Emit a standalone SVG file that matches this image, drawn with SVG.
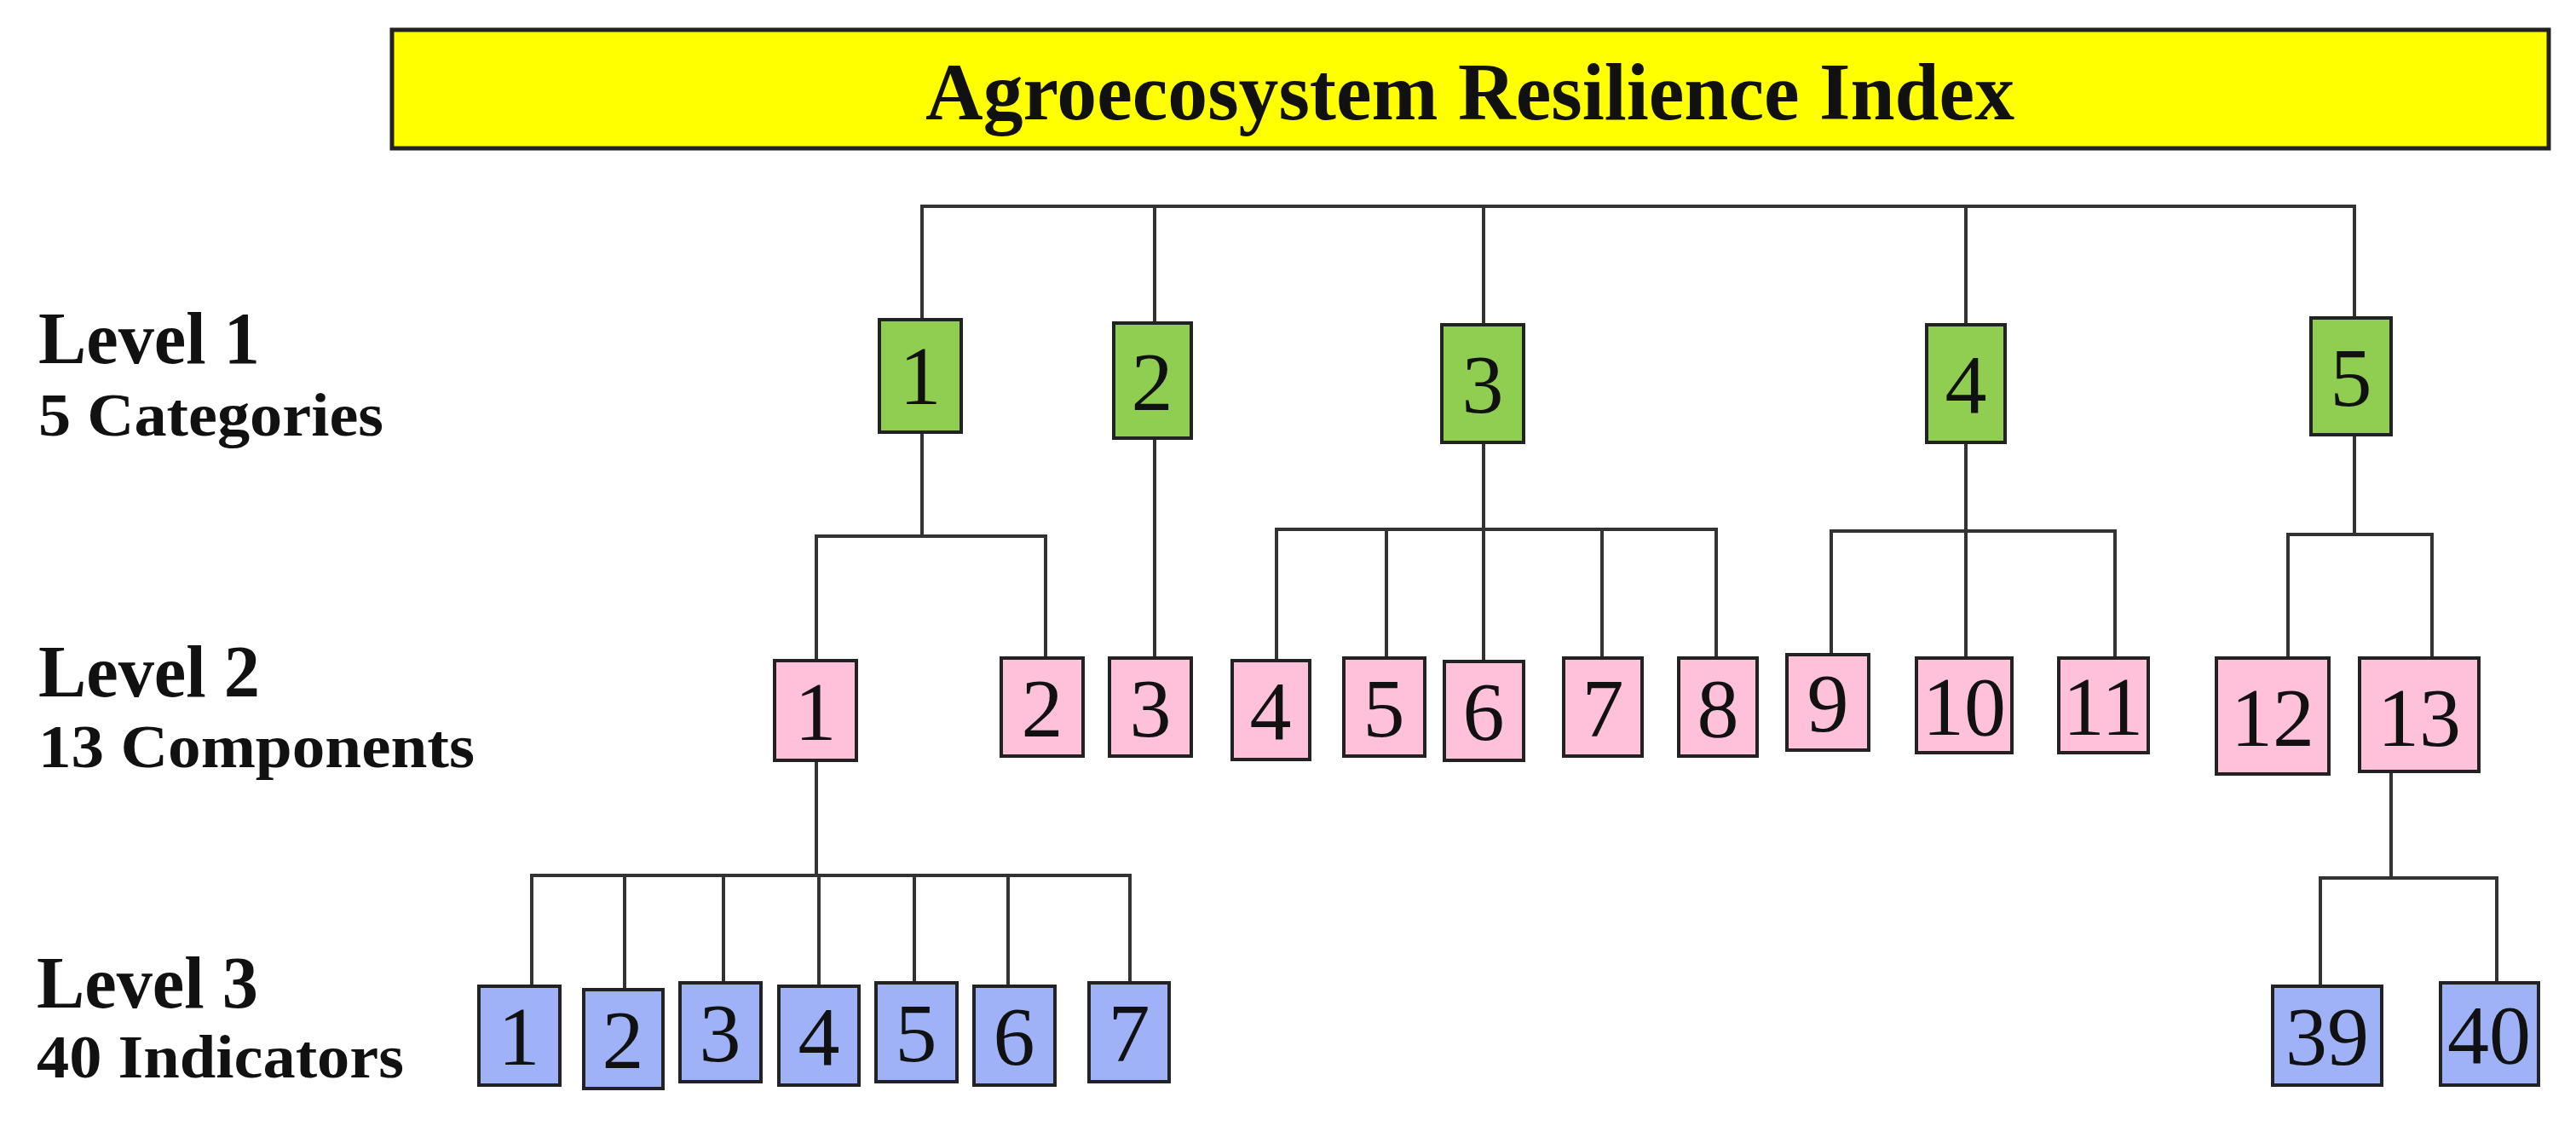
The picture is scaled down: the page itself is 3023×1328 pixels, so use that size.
<svg xmlns="http://www.w3.org/2000/svg" width="3023" height="1328" viewBox="0 0 3023 1328">
<style>
.b{stroke:#222;stroke-width:4}
.g{fill:#8fce50}.p{fill:#ffc1da}.u{fill:#9fb2f7}
.n{font-family:"Liberation Serif",serif;font-size:98px;text-anchor:middle;fill:#111}
.lv{font-family:"Liberation Serif",serif;font-weight:bold;fill:#111}
#conn path{fill:none;stroke:#333;stroke-width:4}
</style>
<rect x="0" y="0" width="3023" height="1328" fill="#fff"/>
<g id="title"><rect x="460" y="35" width="2531" height="139" fill="#ffff00" stroke="#222" stroke-width="5"/>
<text x="1725" y="140" class="lv" font-size="96" text-anchor="middle" textLength="1278" lengthAdjust="spacingAndGlyphs">Agroecosystem Resilience Index</text></g>
<g id="labels">
<text x="45" y="426" class="lv" font-size="86" textLength="260" lengthAdjust="spacingAndGlyphs">Level 1</text>
<text x="45" y="511" class="lv" font-size="72" textLength="405" lengthAdjust="spacingAndGlyphs">5 Categories</text>
<text x="45" y="817" class="lv" font-size="86" textLength="260" lengthAdjust="spacingAndGlyphs">Level 2</text>
<text x="45" y="900" class="lv" font-size="72" textLength="512" lengthAdjust="spacingAndGlyphs">13 Components</text>
<text x="43" y="1182" class="lv" font-size="86" textLength="260" lengthAdjust="spacingAndGlyphs">Level 3</text>
<text x="43" y="1264" class="lv" font-size="72" textLength="431" lengthAdjust="spacingAndGlyphs">40 Indicators</text>
</g>
<g id="conn">
<path d="M1082 375V242H2763V373M1355 242V379M1741 242V381M2307 242V381"/>
<path d="M1082 507V629M958 775V629H1227V772"/>
<path d="M1355 514V772"/>
<path d="M1741 519V776M1498 775V621H2014V772M1627 621V772M1880 621V772"/>
<path d="M2307 519V772M2149 768V623H2482V772"/>
<path d="M2763 510V627M2685 772V627H2854V772"/>
<path d="M958 892V1027M624 1157V1027H1326V1153M733 1027V1161M849 1027V1153M961 1027V1157M1073 1027V1153M1183 1027V1157"/>
<path d="M2806 905V1030M2723 1157V1030H2930V1153"/>
</g>
<g class="nodes" transform="translate(0,6)">
<g id="c1"><rect x="1032" y="369" width="96" height="132" class="g b"/><text x="1080" y="468" class="n">1</text></g>
</g>
<g id="c2"><rect x="1307" y="379" width="91" height="135" class="g b"/><text x="1352" y="481" class="n">2</text></g>
<g id="c3"><rect x="1692" y="381" width="96" height="138" class="g b"/><text x="1740" y="484" class="n">3</text></g>
<g id="c4"><rect x="2261" y="381" width="92" height="138" class="g b"/><text x="2307" y="484" class="n">4</text></g>
<g id="c5"><rect x="2712" y="373" width="94" height="137" class="g b"/><text x="2759" y="476" class="n">5</text></g>
<g id="m1"><rect x="909" y="775" width="96" height="117" class="p b"/><text x="957" y="868" class="n">1</text></g>
<g id="m2"><rect x="1175" y="772" width="96" height="115" class="p b"/><text x="1223" y="864" class="n">2</text></g>
<g id="m3"><rect x="1302" y="772" width="96" height="115" class="p b"/><text x="1350" y="864" class="n">3</text></g>
<g id="m4"><rect x="1446" y="775" width="91" height="116" class="p b"/><text x="1491" y="867" class="n">4</text></g>
<g id="m5"><rect x="1577" y="772" width="95" height="115" class="p b"/><text x="1624" y="864" class="n">5</text></g>
<g id="m6"><rect x="1695" y="776" width="93" height="116" class="p b"/><text x="1741" y="868" class="n">6</text></g>
<g id="m7"><rect x="1835" y="772" width="92" height="115" class="p b"/><text x="1881" y="864" class="n">7</text></g>
<g id="m8"><rect x="1970" y="772" width="92" height="115" class="p b"/><text x="2016" y="864" class="n">8</text></g>
<g id="m9"><rect x="2097" y="768" width="96" height="112" class="p b"/><text x="2145" y="858" class="n">9</text></g>
<g id="m10"><rect x="2249" y="772" width="112" height="111" class="p b"/><text x="2305" y="862" class="n">10</text></g>
<g id="m11"><rect x="2416" y="772" width="105" height="111" class="p b"/><text x="2468" y="862" class="n">11</text></g>
<g id="m12"><rect x="2601" y="772" width="132" height="136" class="p b"/><text x="2667" y="875" class="n">12</text></g>
<g id="m13"><rect x="2769" y="772" width="140" height="133" class="p b"/><text x="2839" y="875" class="n">13</text></g>
<g id="i1"><rect x="562" y="1157" width="95" height="116" class="u b"/><text x="609" y="1249" class="n">1</text></g>
<g id="i2"><rect x="685" y="1161" width="93" height="116" class="u b"/><text x="731" y="1253" class="n">2</text></g>
<g id="i3"><rect x="798" y="1153" width="95" height="116" class="u b"/><text x="845" y="1245" class="n">3</text></g>
<g id="i4"><rect x="914" y="1157" width="94" height="116" class="u b"/><text x="961" y="1249" class="n">4</text></g>
<g id="i5"><rect x="1028" y="1153" width="95" height="116" class="u b"/><text x="1075" y="1245" class="n">5</text></g>
<g id="i6"><rect x="1143" y="1157" width="95" height="116" class="u b"/><text x="1190" y="1249" class="n">6</text></g>
<g id="i7"><rect x="1278" y="1153" width="94" height="116" class="u b"/><text x="1325" y="1245" class="n">7</text></g>
<g id="i39"><rect x="2667" y="1157" width="128" height="116" class="u b"/><text x="2731" y="1249" class="n">39</text></g>
<g id="i40"><rect x="2864" y="1153" width="115" height="120" class="u b"/><text x="2921" y="1247" class="n">40</text></g>
</svg>
